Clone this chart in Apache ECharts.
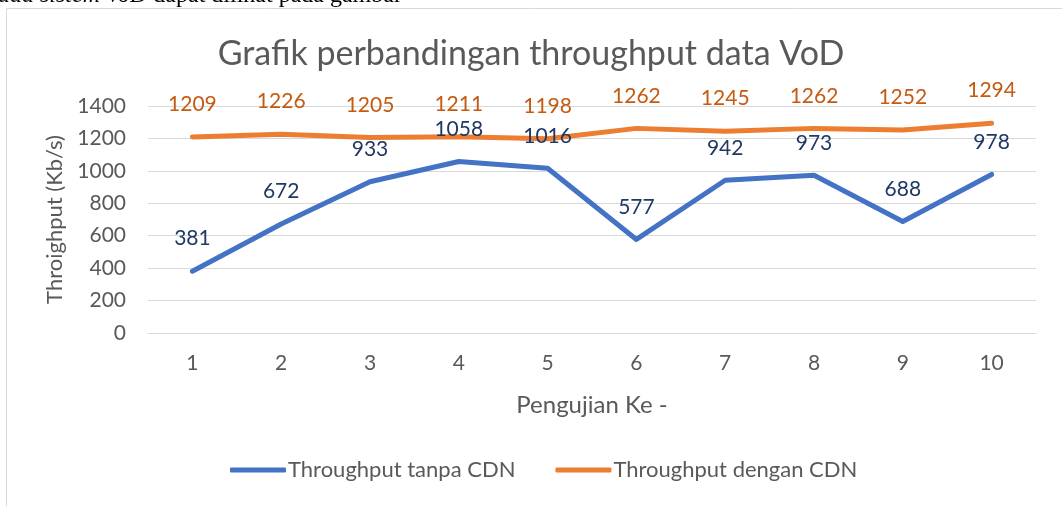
<!DOCTYPE html>
<html>
<head>
<meta charset="utf-8">
<script src="https://cdn.jsdelivr.net/npm/echarts@6/dist/echarts.min.js"></script>
<style>
  html, body { margin: 0; padding: 0; background: #fff; }
  #chart { width: 1062px; height: 506px; }
</style>
</head>
<body>
<div id="chart"></div>
<script>
var categories = ['1', '2', '3', '4', '5', '6', '7', '8', '9', '10'];
var tanpaCDN = [381, 672, 933, 1058, 1016, 577, 942, 973, 688, 978];
var denganCDN = [1209, 1226, 1205, 1211, 1198, 1262, 1245, 1262, 1252, 1294];
var seriesNames = ['Throughput tanpa CDN', 'Throughput dengan CDN'];

var font = 'Lato';
var grey = '#595959';

var myChart = echarts.init(document.getElementById('chart'));
var option = {
    animation: false,
    backgroundColor: '#fff',
    title: {
        text: 'Grafik perbandingan throughput data VoD',
        left: 'center',
        top: 32,
        textStyle: { fontFamily: font, fontSize: 34, fontWeight: 'normal', color: grey }
    },
    graphic: [
        {
            type: 'rect', left: 6, top: 8, z: -1,
            shape: { width: 1100, height: 520 },
            style: { fill: '#fff', stroke: '#d9d9d9', lineWidth: 1 }
        },
        {
            type: 'text', left: -14, top: -16,
            style: {
                text: '{i|pada sistem VoD} dapat dilihat pada gambar',
                fontFamily: 'Liberation Serif', fontSize: 24, fill: '#000',
                rich: { i: { fontStyle: 'italic', fontFamily: 'Liberation Serif', fontSize: 24 } }
            }
        }
    ],
    legend: {
        bottom: 20,
        left: 225,
        itemWidth: 56,
        itemHeight: 5,
        itemGap: 40,
        icon: 'roundRect',
        textStyle: { fontFamily: font, fontSize: 22, color: grey, padding: [0, 0, 0, -3] },
        data: seriesNames
    },
    grid: { left: 148, right: 26, top: 106, bottom: 173 },
    xAxis: {
        type: 'category',
        data: categories,
        name: 'Pengujian Ke -',
        nameLocation: 'middle',
        nameGap: 60,
        nameTextStyle: { fontFamily: font, fontSize: 24, color: grey },
        axisLine: { lineStyle: { color: '#d9d9d9' } },
        axisTick: { show: false },
        axisLabel: { fontFamily: font, fontSize: 21, color: grey, margin: 20 }
    },
    yAxis: {
        type: 'value',
        min: 0,
        max: 1400,
        interval: 200,
        name: 'Throighput (Kb/s)',
        nameLocation: 'middle',
        nameGap: 81,
        nameTextStyle: { fontFamily: font, fontSize: 22, color: grey },
        axisLabel: {
            fontFamily: font, fontSize: 21, color: grey, margin: 22,
            formatter: function (v) { return String(v); }
        },
        splitLine: { lineStyle: { color: '#d9d9d9', width: 1 } }
    },
    series: [
        {
            name: seriesNames[0],
            type: 'line',
            data: tanpaCDN,
            symbol: 'circle',
            symbolSize: 2,
            itemStyle: { color: '#4472C4' },
            color: '#4472C4',
            lineStyle: { width: 5, cap: 'round', join: 'round' },
            label: { show: true, position: 'top', distance: 21, formatter: '{c}', fontFamily: font, fontSize: 21, color: '#203864' }
        },
        {
            name: seriesNames[1],
            type: 'line',
            data: denganCDN,
            symbol: 'circle',
            symbolSize: 2,
            itemStyle: { color: '#ED7D31' },
            color: '#ED7D31',
            lineStyle: { width: 5, cap: 'round', join: 'round' },
            label: { show: true, position: 'top', distance: 21, formatter: '{c}', fontFamily: font, fontSize: 21, color: '#C55A11' }
        }
    ]
};
myChart.setOption(option);
</script>
</body>
</html>
